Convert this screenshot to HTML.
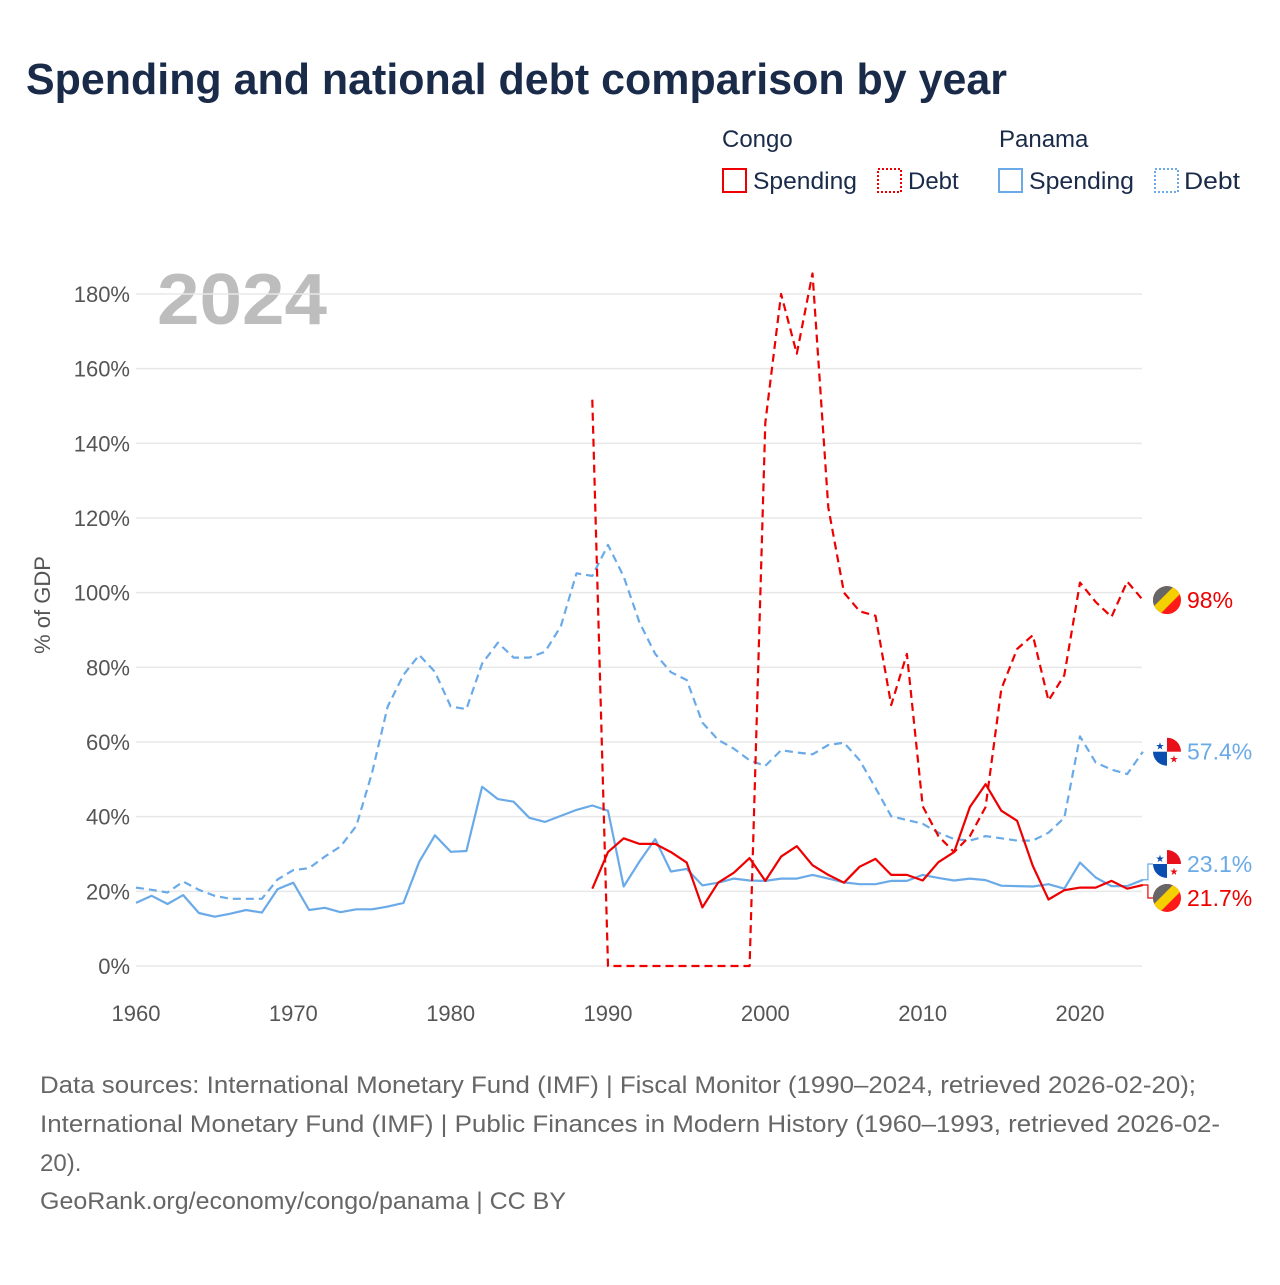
<!DOCTYPE html>
<html><head><meta charset="utf-8">
<style>
body{margin:0;background:#fff;}
svg text{font-family:"Liberation Sans",sans-serif;}
</style></head>
<body>
<svg id="chart" width="1280" height="1280" xmlns="http://www.w3.org/2000/svg">
<text x="26" y="94" font-size="44" font-weight="bold" fill="#1a2b4a" textLength="981" lengthAdjust="spacingAndGlyphs">Spending and national debt comparison by year</text>
<g font-size="24" fill="#1a2b4a">
<text x="722" y="147">Congo</text>
<text x="999" y="147">Panama</text>
<g><rect x="723" y="169" width="23" height="23" fill="none" stroke="#e00" stroke-width="2"/><text x="753" y="189" textLength="104" lengthAdjust="spacingAndGlyphs">Spending</text></g>
<g><rect x="878" y="169" width="23" height="23" fill="none" stroke="#e00" stroke-width="2" stroke-dasharray="2,2"/><text x="908" y="189">Debt</text></g>
<g><rect x="999" y="169" width="23" height="23" fill="none" stroke="#6aaae8" stroke-width="2"/><text x="1029" y="189" textLength="105" lengthAdjust="spacingAndGlyphs">Spending</text></g>
<g><rect x="1155" y="169" width="23" height="23" fill="none" stroke="#6aaae8" stroke-width="2" stroke-dasharray="2,2"/><text x="1184" y="189" textLength="56" lengthAdjust="spacingAndGlyphs">Debt</text></g>
</g>
<text x="157" y="324" font-size="72" font-weight="bold" fill="#bdbdbd" textLength="170" lengthAdjust="spacingAndGlyphs">2024</text>
<text transform="translate(50,605) rotate(-90)" text-anchor="middle" font-size="22" fill="#555">% of GDP</text>
<g id="grid"></g><g id="series"></g><g id="ends"></g>
<g font-size="24" fill="#666">
<text x="40" y="1093" textLength="1156" lengthAdjust="spacingAndGlyphs">Data sources: International Monetary Fund (IMF) | Fiscal Monitor (1990–2024, retrieved 2026-02-20);</text>
<text x="40" y="1132" textLength="1180" lengthAdjust="spacingAndGlyphs">International Monetary Fund (IMF) | Public Finances in Modern History (1960–1993, retrieved 2026-02-</text>
<text x="40" y="1171">20).</text>
<text x="40" y="1209" textLength="526" lengthAdjust="spacingAndGlyphs">GeoRank.org/economy/congo/panama | CC BY</text>
</g>
</svg>
<script>
const yTicks=[0,20,40,60,80,100,120,140,160,180];
const xTicks=[1960,1970,1980,1990,2000,2010,2020];
const panamaYears0=1960;
const panamaSpending=[16.9,18.8,16.6,19,14.2,13.2,14,15,14.3,20.6,22.3,15,15.6,14.4,15.2,15.2,15.9,16.9,27.9,35,30.6,30.8,48,44.7,44,39.7,38.6,40.2,41.8,43,41.6,21.3,28,34,25.3,26,21.6,22.3,23.4,22.9,22.8,23.4,23.4,24.4,23.4,22.4,21.9,21.9,22.8,22.8,24.4,23.6,22.9,23.4,23,21.5,21.4,21.3,21.9,20.7,27.7,23.7,21.4,21.4,23.1];
const panamaDebt=[21,20.4,19.7,22.6,20.4,18.8,18,18,18,23.2,25.7,26.2,29.3,32,37.5,51.7,69.5,78,83.3,78.8,69.5,68.8,81,86.6,82.6,82.6,84.2,91,105.2,104.5,112.8,104.3,92,83.6,78.7,76.6,65.2,60.6,58.2,55.1,53.6,57.8,57.2,56.7,59.2,59.8,55.1,47.7,40.1,39.1,38.1,35.7,34,33.6,34.8,34.2,33.6,33.6,35.7,39.7,61.5,54.5,52.6,51.4,57.4];
const congoYears0=1989;
const congoSpending=[20.7,30.5,34.2,32.7,32.7,30.5,27.7,15.7,22.3,25,28.9,22.8,29.3,32.1,27,24.4,22.3,26.6,28.7,24.4,24.4,22.9,27.8,30.5,42.6,48.7,41.6,38.9,26.8,17.8,20.3,21,21,22.8,20.7,21.7];
const congoDebt=[151.7,0,0,0,0,0,0,0,0,0,0,145.5,180,164,185.5,122.8,100,95,93.8,69.9,83.6,42.8,34.8,30.5,34.8,42.6,74.2,84.9,88.6,71.1,77.9,102.7,97.5,93.5,103,98];

const NS='http://www.w3.org/2000/svg';
const X=y=>136+(y-1960)*(1080-136)/60;
const Y=v=>966-v*(966-294)/180;
function mk(tag,attrs,parent){const e=document.createElementNS(NS,tag);for(const k in attrs)e.setAttribute(k,attrs[k]);parent.appendChild(e);return e;}
const grid=document.getElementById('grid');
yTicks.forEach(t=>{
 const l=mk('line',{x1:136,x2:1142,y1:Y(t),y2:Y(t),stroke:'#e8e8e8','stroke-width':1.5},grid);
 
 
 const tx=mk('text',{x:130,y:Y(t)+8,'text-anchor':'end','font-size':22,fill:'#555'},grid);
 tx.textContent=t+'%';
 
 
});
xTicks.forEach(t=>{
 const tx=mk('text',{x:X(t),y:1021,'text-anchor':'middle','font-size':22,fill:'#555'},grid);
 tx.textContent=t;
 
 
});
const ser=document.getElementById('series');
function line(arr,y0,color,dash,name){
 const d=arr.map((v,i)=>(i?'L':'M')+X(y0+i).toFixed(1)+','+Y(v).toFixed(1)).join('');
 const p=mk('path',{d:d,fill:'none',stroke:color,'stroke-width':2.2,'stroke-linejoin':'round'},ser);
 if(dash)p.setAttribute('stroke-dasharray',dash);
 
 
}
line(panamaDebt,panamaYears0,'#6aaae8','8,5','panama-debt-line');
line(panamaSpending,panamaYears0,'#6aaae8',null,'panama-spending-line');
line(congoDebt,congoYears0,'#e00','8,5','congo-debt-line');
line(congoSpending,congoYears0,'#e00',null,'congo-spending-line');

const ends=document.getElementById('ends');
const defs=mk('defs',{},ends);
function flag(cx,cy,type,id){
 const cp=mk('clipPath',{id:id},defs);mk('circle',{cx:cx,cy:cy,r:14},cp);
 const g=mk('g',{'clip-path':'url(#'+id+')'},ends);
 
 
 if(type==='congo'){
  mk('rect',{x:cx-15,y:cy-15,width:30,height:30,fill:'#ff1a1a'},g);
  mk('polygon',{points:`${cx-15},${cy-15} ${cx+8},${cy-15} ${cx-15},${cy+8}`,fill:'#666'},g);
  mk('polygon',{points:`${cx+8},${cy-15} ${cx+15},${cy-15} ${cx+15},${cy-8} ${cx-8},${cy+15} ${cx-15},${cy+15} ${cx-15},${cy+8}`,fill:'#f5d000'},g);
 }else{
  mk('rect',{x:cx-15,y:cy-15,width:30,height:30,fill:'#fff'},g);
  mk('rect',{x:cx,y:cy-15,width:15,height:15,fill:'#e8101a'},g);
  mk('rect',{x:cx-15,y:cy,width:15,height:15,fill:'#0a4fb0'},g);
  const s1=mk('text',{x:cx-7,y:cy-2,'font-size':10,fill:'#0a4fb0','text-anchor':'middle'},g);s1.textContent='★';
  const s2=mk('text',{x:cx+7,y:cy+11,'font-size':10,fill:'#e8101a','text-anchor':'middle'},g);s2.textContent='★';
 }
}
function endLabel(val,arr,y0,type,color,ly,name,txt){
 const last=arr[arr.length-1];const ex=X(y0+arr.length-1),ey=Y(last);
 if(Math.abs(ly-ey)>3){
  const c=mk('path',{d:`M${ex},${ey}H${ex+5}V${ly}H1153`,fill:'none',stroke:color,'stroke-width':1.2},ends);
  
  
 }
 flag(1167,ly,type,name+'-clip');
 const t=mk('text',{x:1187,y:ly+8,'font-size':23,fill:color},ends);
 t.textContent=txt;
 
 
}
endLabel(0,congoDebt,congoYears0,'congo','#e00',Y(congoDebt[congoDebt.length-1]),'congo-debt','98%');
endLabel(0,panamaDebt,panamaYears0,'panama','#6aaae8',Y(panamaDebt[panamaDebt.length-1]),'panama-debt','57.4%');
endLabel(0,panamaSpending,panamaYears0,'panama','#6aaae8',864,'panama-spending','23.1%');
endLabel(0,congoSpending,congoYears0,'congo','#e00',898,'congo-spending','21.7%');
</script>
</body></html>
